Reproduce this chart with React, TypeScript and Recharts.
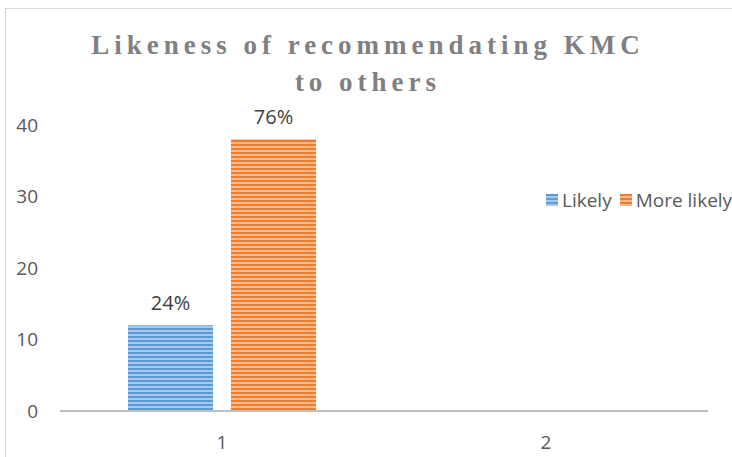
import React from "react";
import { BarChart, Bar, XAxis, YAxis, LabelList } from "recharts";

const categories = ["1", "2"];
const likelyValues = [12, 0];
const moreLikelyValues = [38, 0];
const likelyLabels = ["24%", ""];
const moreLikelyLabels = ["76%", ""];
const yTicks = [0, 10, 20, 30, 40];
const seriesNames = ["Likely", "More likely"];
const titleLines = ["Likeness of recommendating KMC", "to others"];

const data = categories.map((c, i) => ({
  cat: c,
  likely: likelyValues[i],
  moreLikely: moreLikelyValues[i],
  likelyLabel: likelyLabels[i],
  moreLikelyLabel: moreLikelyLabels[i],
}));

const BLUE = "#5B9BD5";
const BLUE_L = "#A9C9EA";
const ORANGE = "#ED7D31";
const ORANGE_L = "#F6B88E";

const Swatch = ({ c1, c2, id }: { c1: string; c2: string; id: string }) => (
  <svg width={12} height={12} style={{ display: "inline-block", verticalAlign: "middle" }}>
    <defs>
      <pattern id={id} patternUnits="userSpaceOnUse" width={12} height={4}>
        <rect x={0} y={0} width={12} height={4} fill={c2} />
        <rect x={0} y={0} width={12} height={2} fill={c1} />
      </pattern>
    </defs>
    <rect x={0} y={0} width={12} height={12} fill={`url(#${id})`} />
  </svg>
);

export default function App() {
  return (
    <div
      style={{
        position: "fixed",
        left: 0,
        top: 0,
        width: 732,
        height: 457,
        overflow: "hidden",
        background: "#fff",
        fontFamily: "'Open Sans', sans-serif",
      }}
    >
      <div
        style={{
          position: "absolute",
          left: 5,
          top: 8,
          width: 760,
          height: 480,
          border: "1px solid #d9d9d9",
          boxSizing: "border-box",
        }}
      />
      <div
        style={{
          position: "absolute",
          left: 0,
          top: 27,
          width: 736,
          textAlign: "center",
          fontFamily: "'Liberation Serif', serif",
          fontWeight: "bold",
          fontSize: 27,
          letterSpacing: 5,
          lineHeight: "37px",
          color: "#808080",
        }}
      >
        {titleLines.map((l) => (
          <div key={l}>{l}</div>
        ))}
      </div>
      <div style={{ position: "absolute", left: 0, top: 0 }}>
        <BarChart
          width={732}
          height={457}
          data={data}
          margin={{ top: 125, right: 24, bottom: 16, left: 0 }}
          barSize={85}
          barGap={18}
        >
          <defs>
            <pattern id="stripeBlue" patternUnits="userSpaceOnUse" width={8} height={4}>
              <rect x={0} y={0} width={8} height={4} fill={BLUE_L} />
              <rect x={0} y={0} width={8} height={2} fill={BLUE} />
            </pattern>
            <pattern id="stripeOrange" patternUnits="userSpaceOnUse" width={8} height={4}>
              <rect x={0} y={0} width={8} height={4} fill={ORANGE_L} />
              <rect x={0} y={0} width={8} height={2} fill={ORANGE} />
            </pattern>
          </defs>
          <XAxis
            dataKey="cat"
            height={30}
            tickLine={false}
            axisLine={{ stroke: "#bfbfbf", strokeWidth: 2 }}
            tick={{ fill: "#595959", fontSize: 19 }}
            tickMargin={19}
          />
          <YAxis
            width={60}
            domain={[0, 40]}
            ticks={yTicks}
            axisLine={false}
            tickLine={false}
            tickMargin={16}
            tick={{ fill: "#595959", fontSize: 19 }}
          />
          <Bar dataKey="likely" fill="url(#stripeBlue)" isAnimationActive={false}>
            <LabelList dataKey="likelyLabel" position="top" offset={15} fill="#404040" fontSize={20} />
          </Bar>
          <Bar dataKey="moreLikely" fill="url(#stripeOrange)" isAnimationActive={false}>
            <LabelList dataKey="moreLikelyLabel" position="top" offset={15} fill="#404040" fontSize={20} />
          </Bar>
        </BarChart>
      </div>
      <div
        style={{
          position: "absolute",
          left: 546,
          top: 185,
          whiteSpace: "nowrap",
          fontSize: 19,
          color: "#595959",
        }}
      >
        <Swatch c1={BLUE} c2={BLUE_L} id="lgBlue" />
        <span style={{ marginLeft: 4, marginRight: 8, verticalAlign: "middle" }}>{seriesNames[0]}</span>
        <Swatch c1={ORANGE} c2={ORANGE_L} id="lgOrange" />
        <span style={{ marginLeft: 4, verticalAlign: "middle" }}>{seriesNames[1]}</span>
      </div>
    </div>
  );
}
